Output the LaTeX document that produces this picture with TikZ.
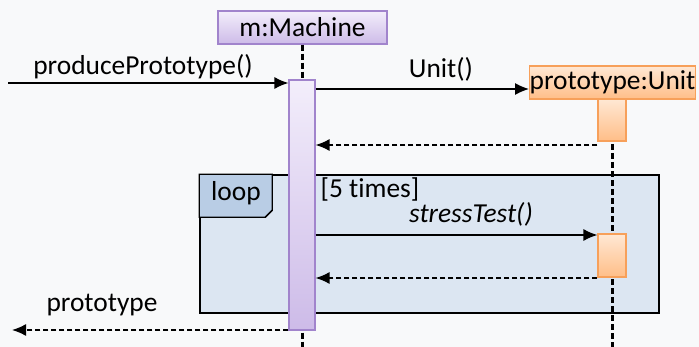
\documentclass[tikz,border=0pt]{standalone}
\usepackage{fontspec}
\setmainfont{Carlito}[Ligatures=NoCommon]
\usepackage{tikz}
\usetikzlibrary{arrows.meta,positioning,calc,shadows}
\definecolor{seqPaper}{HTML}{F8F9FA}
\definecolor{seqInk}{HTML}{000000}
\definecolor{seqLilacTop}{HTML}{F3EEFB}
\definecolor{seqLilacBot}{HTML}{CDBBE8}
\definecolor{seqLilacLine}{HTML}{A184CC}
\definecolor{seqPeachTop}{HTML}{FFE8D4}
\definecolor{seqPeachBot}{HTML}{FFBE88}
\definecolor{seqPeachLine}{HTML}{F7A05A}
\definecolor{seqFrame}{HTML}{DCE6F2}
\definecolor{seqTag}{HTML}{B9CDE5}
\tikzset{
    >=Latex,
    every node/.style={font=\fontsize{15.6}{18}\selectfont, text=seqInk},
    lifebox/.style={draw=seqLilacLine, line width=0.6pt, top color=seqLilacTop, bottom color=seqLilacBot, minimum width=33.8mm, minimum height=6.6mm, inner sep=0pt, drop shadow={shadow xshift=0.5pt, shadow yshift=-0.5pt, opacity=0.15}},
    unitbox/.style={draw=seqPeachLine, line width=0.6pt, top color=seqPeachTop, bottom color=seqPeachBot, minimum width=33mm, minimum height=6.6mm, inner sep=0pt, drop shadow={shadow xshift=0.5pt, shadow yshift=-0.5pt, opacity=0.15}},
    lilacbar/.style={draw=seqLilacLine, line width=0.6pt, top color=seqLilacTop, bottom color=seqLilacBot, minimum width=5.2mm, inner sep=0pt, drop shadow={shadow xshift=0.5pt, shadow yshift=-0.5pt, opacity=0.15}},
    peachbar/.style={draw=seqPeachLine, line width=0.6pt, top color=seqPeachTop, bottom color=seqPeachBot, minimum width=5.6mm, inner sep=0pt, drop shadow={shadow xshift=0.5pt, shadow yshift=-0.5pt, opacity=0.15}},
    frame/.style={draw=seqInk, line width=0.85pt, fill=seqFrame, minimum width=91.8mm, minimum height=27.6mm, inner sep=0pt},
    lifeline/.style={draw=seqInk, line width=1.4pt, dash pattern=on 1.2mm off 0.6mm},
    call/.style={-{Latex[length=2.8mm,width=2.4mm]}, line width=0.85pt, draw=seqInk},
    reply/.style={-{Latex[length=2.8mm,width=2.4mm]}, line width=0.85pt, draw=seqInk, dash pattern=on 1mm off 0.6mm}
}
\begin{document}
\begin{tikzpicture}[x=0.2mm, y=-0.2mm]
\useasboundingbox[fill=seqPaper] (0,0) rectangle (699,347);
% loop fragment
\node[frame] (loopbox) at (429.5,244) {};
\draw[line width=0.85pt, fill=seqTag] (loopbox.north west) -- ++(73,0) -- ++(0,36) -- ++(-7,7) -- ++(-66,0) -- cycle;
\node (looptag) at (236,193) {loop};
\node (guard) at (370,189) {[5 times]};
% lifelines
\node[lifebox] (machine) at (302.5,27.5) {m:Machine};
\draw[lifeline] (machine.south) -- (machine.south |- 0,347);
\draw[lifeline] (612.5,99) -- (612.5,347);
% activations
\node[lilacbar, minimum height=50mm] (mbar) at (302,205) {};
\node[unitbox] (unit) at (612.5,82.5) {prototype:Unit};
\node[peachbar, minimum height=8.4mm] (ubar1) at (612,120) {};
\node[peachbar, minimum height=8.6mm] (ubar2) at (612,255.5) {};
% messages
\coordinate (caller) at (8,83);
\coordinate (sink) at (12,330);
\draw[call] (caller) -- (caller -| mbar.west);
\node (produce) at (143,67) {producePrototype()};
\draw[call] (mbar.east |- 0,89) -- (unit.west |- 0,89);
\node (ctor) at (441,69) {Unit()};
\draw[reply] (ubar1.west |- 0,145) -- (mbar.east |- 0,145);
\draw[call] (mbar.east |- 0,235) -- (ubar2.west |- 0,235);
\node (stress) at (471,214) {\itshape stressTest()};
\draw[reply] (ubar2.west |- 0,278) -- (mbar.east |- 0,278);
\draw[reply] (mbar.west |- sink) -- (sink);
\node (result) at (102,305) {prototype};
\end{tikzpicture}
\end{document}
